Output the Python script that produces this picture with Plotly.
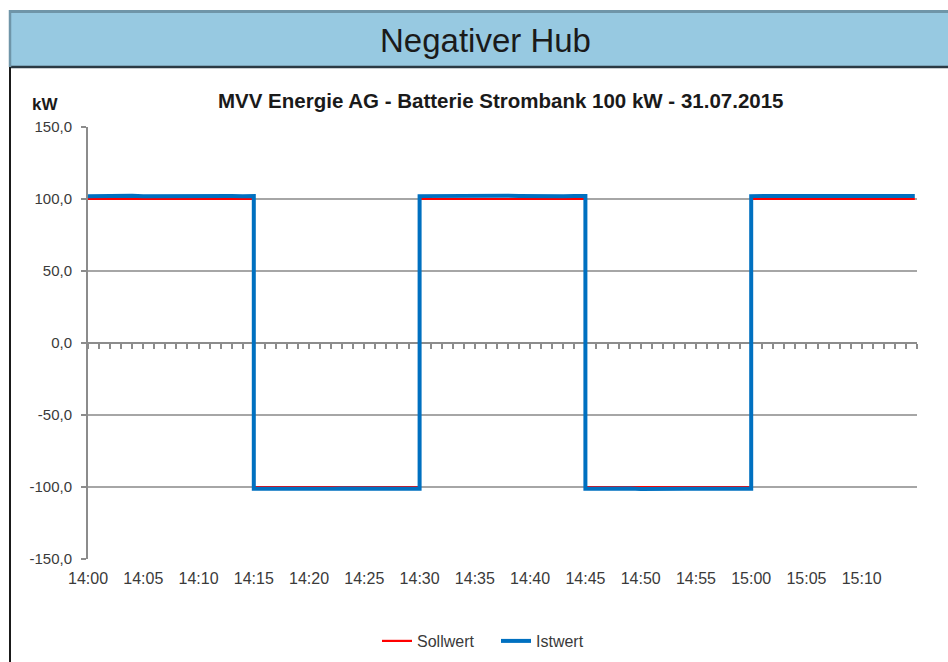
import plotly.graph_objects as go
from datetime import datetime, timedelta

# ---- data ----
day = "2015-07-31"
soll_min = [0, 15, 15, 30, 30, 45, 45, 60, 60, 74.8]
soll_kw = [100, 100, -100, -100, 100, 100, -100, -100, 100, 100]

ist_min = [0, 1, 2, 3, 4, 5, 6, 7, 8, 9, 10, 11, 12, 13, 14, 15,
           15, 16, 17, 18, 19, 20, 21, 22, 23, 24, 25, 26, 27, 28, 29, 30,
           30, 31, 32, 33, 34, 35, 36, 37, 38, 39, 40, 41, 42, 43, 44, 45,
           45, 46, 47, 48, 49, 50, 51, 52, 53, 54, 55, 56, 57, 58, 59, 60,
           60, 61, 62, 63, 64, 65, 66, 67, 68, 69, 70, 71, 72, 73, 74, 74.8]
ist_kw = [101.9, 102.1, 101.8, 102.0, 102.2, 101.9, 102.0, 102.1, 101.8, 102.0, 102.1, 101.9, 102.2, 102.0, 101.9, 102.0,
          -101.2, -101.3, -101.1, -101.2, -101.4, -101.1, -101.2, -101.3, -101.1, -101.2, -101.3, -101.2, -101.1, -101.3, -101.2, -101.2,
          102.0, 102.1, 101.9, 102.2, 102.0, 102.1, 101.9, 102.0, 102.2, 102.1, 101.9, 102.0, 102.1, 101.9, 102.0, 102.0,
          -101.2, -101.1, -101.3, -101.2, -101.1, -101.4, -101.2, -101.3, -101.1, -101.2, -101.3, -101.2, -101.1, -101.2, -101.3, -101.2,
          102.0, 102.2, 101.9, 102.1, 102.0, 102.2, 101.9, 102.1, 102.0, 101.9, 102.2, 102.0, 102.1, 102.0, 101.9, 102.0]

x_tick_labels = ["14:00", "14:05", "14:10", "14:15", "14:20", "14:25", "14:30", "14:35",
                 "14:40", "14:45", "14:50", "14:55", "15:00", "15:05", "15:10"]
y_tick_vals = [-150, -100, -50, 0, 50, 100, 150]
y_tick_text = ["-150,0", "-100,0", "-50,0", "0,0", "50,0", "100,0", "150,0"]

# ---- conversions ----
t0 = datetime(2015, 7, 31, 14, 0, 0)
def to_t(m):
    return t0 + timedelta(minutes=m)

soll_t = [to_t(m) for m in soll_min]
ist_t = [to_t(m) for m in ist_min]
x_tick_vals = [datetime.strptime(f"{day} {s}", "%Y-%m-%d %H:%M") for s in x_tick_labels]
x_range = [t0, to_t(75)]

FONT = "Arial, Liberation Sans, sans-serif"
GRID = "#a6a6a6"
AXIS = "#8c8c8c"
TXT = "#3a3a3a"

fig = go.Figure()
fig.add_trace(go.Scatter(x=soll_t, y=soll_kw, name="Sollwert", mode="lines",
                         line=dict(color="#ff0000", width=2.2), xaxis="x", yaxis="y"))
fig.add_trace(go.Scatter(x=ist_t, y=ist_kw, name="Istwert", mode="lines",
                         line=dict(color="#0070c0", width=4), xaxis="x2", yaxis="y"))

L, R, T, B = 88, 31, 127, 103
W, H = 948, 662
pw, ph = W - L - R, H - T - B
def px(p):
    return (p - L) / pw
def py(q):
    return (H - B - q) / ph

fig.update_layout(
    width=W, height=H, autosize=False,
    margin=dict(l=L, r=R, t=T, b=B, autoexpand=False),
    paper_bgcolor="white", plot_bgcolor="white",
    font=dict(family=FONT, color=TXT, size=16),
    xaxis=dict(type="date", range=x_range, tickvals=x_tick_vals, ticktext=x_tick_labels,
               showgrid=False, showline=False, zeroline=False, ticks="",
               tickfont=dict(size=16, color=TXT), ticklabelstandoff=8),
    xaxis2=dict(type="date", range=x_range, overlaying="x", anchor="free", position=0.5,
                showticklabels=False, showgrid=False, zeroline=False,
                showline=True, linecolor=AXIS, linewidth=2,
                ticks="outside", ticklen=5, tickwidth=1.5, tickcolor=AXIS,
                tick0=t0, dtick=60000, layer="below traces"),
    yaxis=dict(range=[-150, 150], tickvals=y_tick_vals, ticktext=y_tick_text,
               showgrid=True, gridcolor=GRID, gridwidth=1.5, zeroline=False,
               showline=True, linecolor=AXIS, linewidth=2,
               ticks="outside", ticklen=5, tickcolor=AXIS, tickwidth=1.5,
               tickfont=dict(size=15, color=TXT), ticklabelstandoff=6),
    showlegend=True,
    legend=dict(orientation="h", xref="container", yref="container",
                x=496 / W, xanchor="center", y=(H - 641) / H, yanchor="middle",
                entrywidth=74, entrywidthmode="pixels",
                font=dict(size=16, color=TXT), bgcolor="rgba(0,0,0,0)"),
    shapes=[
        dict(type="rect", xref="paper", yref="paper", x0=px(9), x1=px(950), y0=py(67), y1=py(11),
             fillcolor="#97c9e1", line=dict(width=0), layer="below"),
        dict(type="line", xref="paper", yref="paper", x0=px(9), x1=px(950), y0=py(11.5), y1=py(11.5),
             line=dict(color="#6f95a8", width=3)),
        dict(type="line", xref="paper", yref="paper", x0=px(9), x1=px(950), y0=py(67), y1=py(67),
             line=dict(color="#2b3a44", width=2.5)),
        dict(type="line", xref="paper", yref="paper", x0=px(10), x1=px(10), y0=py(10), y1=py(67),
             line=dict(color="#6f95a8", width=2.5)),
        dict(type="line", xref="paper", yref="paper", x0=px(10), x1=px(10), y0=py(67), y1=py(665),
             line=dict(color="#1a1a1a", width=2)),
    ],
    annotations=[
        dict(text="Negativer Hub", xref="paper", yref="paper", x=px(485), y=py(40),
             xanchor="center", yanchor="middle", showarrow=False,
             font=dict(size=33, color="#1a1a1a", family=FONT)),
        dict(text="<b>MVV Energie AG - Batterie Strombank 100 kW - 31.07.2015</b>", xref="paper", yref="paper",
             x=px(500), y=py(100), xanchor="center", yanchor="middle", showarrow=False,
             font=dict(size=20.5, color="#1a1a1a", family=FONT)),
        dict(text="<b>kW</b>", xref="paper", yref="paper", x=px(45), y=py(104),
             xanchor="center", yanchor="middle", showarrow=False,
             font=dict(size=17, color="#1a1a1a", family=FONT)),
    ],
)

fig.write_html("out.html", config={"responsive": False, "displayModeBar": False},
               post_script="document.body.style.margin='0px';document.body.style.overflow='hidden';")
